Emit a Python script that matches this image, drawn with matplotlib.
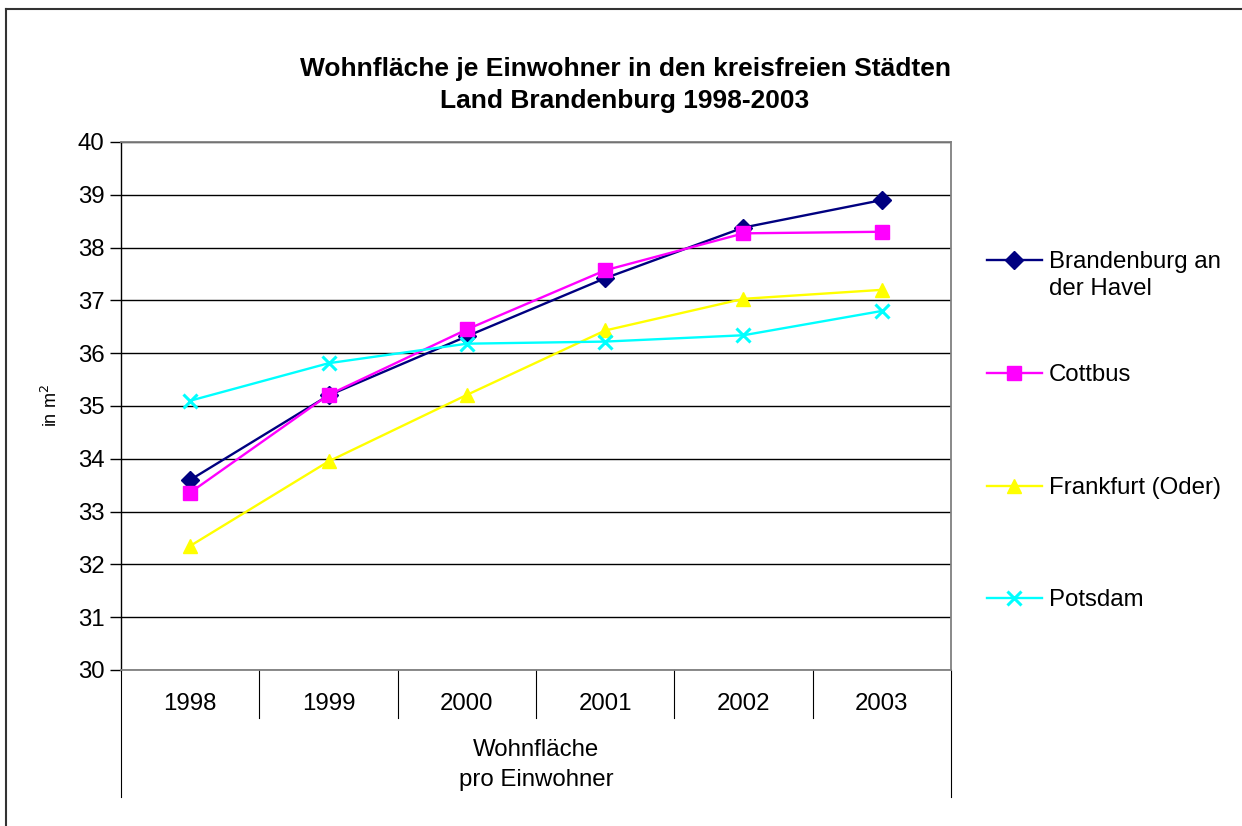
import matplotlib.pyplot as plt
from matplotlib.lines import Line2D
from matplotlib.transforms import blended_transform_factory

plt.rcParams['font.family'] = ['Liberation Sans', 'DejaVu Sans']

years = ['1998', '1999', '2000', '2001', '2002', '2003']
brandenburg = [33.6, 35.2, 36.32, 37.42, 38.38, 38.9]
cottbus = [33.36, 35.21, 36.45, 37.57, 38.27, 38.3]
frankfurt = [32.35, 33.95, 35.21, 36.43, 37.03, 37.2]
potsdam = [35.1, 35.81, 36.18, 36.22, 36.34, 36.8]

series = [
    (['Brandenburg an', 'der Havel'], brandenburg, '#000080', 'D', 9),
    (['Cottbus'], cottbus, '#FF00FF', 's', 9.5),
    (['Frankfurt (Oder)'], frankfurt, '#FFFF00', '^', 10.5),
    (['Potsdam'], potsdam, '#00FFFF', 'x', 10),
]

W, H = 1242, 826
fs = 17.3
fig = plt.figure(figsize=(W / 100, H / 100), dpi=100)
ax = fig.add_axes([121 / W, 1 - 670 / H, 830 / W, 528 / H])

x = list(range(len(years)))
for label, vals, col, mk, ms in series:
    ax.plot(x, vals, color=col, marker=mk, markersize=ms, linewidth=1.7,
            markeredgewidth=2.2 if mk == 'x' else 1, markeredgecolor=col,
            markerfacecolor=col, clip_on=False, zorder=3)

ax.set_xlim(-0.5, len(years) - 0.5)
ax.set_ylim(30, 40)
ax.set_yticks(range(30, 41))
ax.tick_params(axis='y', labelsize=fs, direction='out', length=8, width=1, pad=4)
ax.set_xticks([])
ax.grid(axis='y', color='black', linewidth=1)
ax.set_axisbelow(True)
for side, sp in ax.spines.items():
    sp.set_color('#808080')
    sp.set_linewidth(1.3)
ax.spines['left'].set_color('black')
ax.spines['left'].set_linewidth(1)
ax.set_ylabel('in m$^2$', fontsize=13, labelpad=12)

# category axis below the plot
tr = blended_transform_factory(ax.transData, ax.transAxes)
px = 1 / 528
for i, yr in enumerate(years):
    ax.text(i, -34 * px, yr, transform=tr, ha='center', va='center', fontsize=fs)
for i in range(1, len(years)):
    ax.plot([i - 0.5, i - 0.5], [0, -48 * px], transform=tr, color='black',
            linewidth=0.8, clip_on=False)
for xe in (-0.5, len(years) - 0.5):
    ax.plot([xe, xe], [0, -127 * px], transform=tr, color='black',
            linewidth=0.8, clip_on=False)
for j, line in enumerate(['Wohnfläche', 'pro Einwohner']):
    ax.text((len(years) - 1) / 2, (-80 - 30 * j) * px, line, transform=tr,
            ha='center', va='center', fontsize=fs)

for j, line in enumerate(['Wohnfläche je Einwohner in den kreisfreien Städten',
                          'Land Brandenburg 1998-2003']):
    fig.text(625 / W, 1 - (69 + 32 * j) / H, line, ha='center', va='center',
             fontsize=19, fontweight='bold')

# legend drawn by hand to match the original layout
leg_y = [260, 373, 486, 598]
for (label, vals, col, mk, ms), ly in zip(series, leg_y):
    yf = 1 - ly / H
    fig.add_artist(Line2D([987 / W, 1042 / W], [yf, yf], color=col, linewidth=1.7))
    fig.add_artist(Line2D([1014 / W], [yf], color=col, marker=mk, markersize=ms,
                          markeredgewidth=2.2 if mk == 'x' else 1,
                          markerfacecolor=col, markeredgecolor=col))
    for j, line in enumerate(label):
        fig.text(1049 / W, 1 - (ly + 8 + 27 * j) / H, line, ha='left',
                 va='baseline', fontsize=fs)

# outer chart border (top and left visible)
fig.add_artist(Line2D([6 / W, 1], [1 - 9 / H, 1 - 9 / H], color='#333333', linewidth=1.5))
fig.add_artist(Line2D([6 / W, 6 / W], [0, 1 - 9 / H], color='#333333', linewidth=1.5))

fig.savefig('out.png', dpi=100)
